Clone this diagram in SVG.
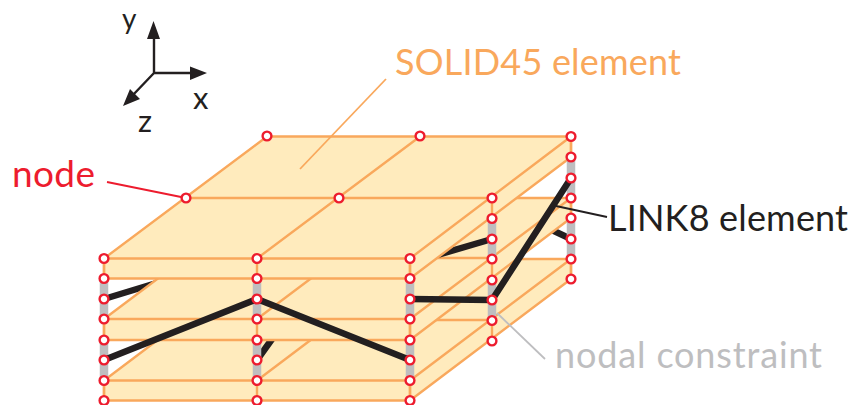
<svg xmlns="http://www.w3.org/2000/svg" width="854" height="405" viewBox="0 0 854 405">
<style>
.f{fill:#FFEBBD;stroke:#F9A85C;stroke-width:2.4;stroke-linejoin:round}
.l{fill:none;stroke:#F9A85C;stroke-width:2.4}
.g{stroke:#BEBEC0;stroke-width:8.500;fill:none}
.k{stroke:#231F20;stroke-width:6.500;fill:none;stroke-linejoin:round}
.t{font-family:Lato,"Liberation Sans",sans-serif}
.n{fill:#fff;stroke:#ED1C2E;stroke-width:2.400}
</style>
<defs><g id="c"><circle r="4.400" class="n"/></g></defs>

<g id="plate-bottom">
<path class="f" d="M104 380.5L265 259H571L410 380.5ZM104 380.5V400.5H410V380.5ZM410 380.5L571 259V279L410 400.5V380.5Z"/>
<path class="l" d="M257 380.5L418 259M186 320H492"/>
</g>
<g id="connectors-lower">
<path class="k" d="M104 299L186 274M257 360L300 300M571 239L490 201"/>
</g>
<g id="plate-middle">
<path class="f" d="M104 319L265 198H571L410 319ZM104 319V340H410V319ZM410 319L571 198V218L410 340V319Z"/>
<path class="l" d="M257 319L418 198M186 258H492"/>
</g>
<g id="connectors-upper">
<path class="k" d="M492 239L410 263"/>
</g>
<g id="plate-top">
<path class="f" d="M104 258.5L267 136.5H571L410 258.5ZM104 258.5V278.5H410V258.5ZM410 258.5L571 136.5V157L410 278.5V258.5Z"/>
<path class="l" d="M257 258.5L420 136.5M186 198H492"/>
</g>
<g id="edges">
<path class="l" d="M104 258.5V401M257 258.5V401M410 258.5V401M492 198V341M571 136.5V279"/>
</g>
<g id="constraints">
<path class="g" d="M104 278.5V319M104 340V380.5M257 278.5V319M257 340V380.5M410 278.5V319M410 340V380.5M492 218.5V259M492 280V320.5M571 157V198M571 218V259"/>
</g>
<g id="connectors">
<path class="k" d="M104 360L257 299L410 360M410 299L492 300L571 178"/>
<path d="M107 182L186 198" fill="none" stroke="#ED1C2E" stroke-width="1.8"/>
<path d="M386 79L300 169" fill="none" stroke="#F9A85C" stroke-width="1.8"/>
<path d="M497 313L545 359" fill="none" stroke="#BEBEC0" stroke-width="1.8"/>
<path d="M556 206L607 217" fill="none" stroke="#231F20" stroke-width="1.8"/>
</g>
<g id="nodes">
<use href="#c" x="267" y="136"/><use href="#c" x="420" y="136"/><use href="#c" x="571" y="136.5"/>
<use href="#c" x="186" y="198"/><use href="#c" x="339" y="198"/>
<use href="#c" x="104" y="258.5"/><use href="#c" x="104" y="278.5"/><use href="#c" x="104" y="299"/><use href="#c" x="104" y="319"/><use href="#c" x="104" y="340"/><use href="#c" x="104" y="360"/><use href="#c" x="104" y="380.5"/><use href="#c" x="104" y="400.5"/>
<use href="#c" x="257" y="258.5"/><use href="#c" x="257" y="278.5"/><use href="#c" x="257" y="299"/><use href="#c" x="257" y="319"/><use href="#c" x="257" y="340"/><use href="#c" x="257" y="360"/><use href="#c" x="257" y="380.5"/><use href="#c" x="257" y="400.5"/>
<use href="#c" x="410" y="258.5"/><use href="#c" x="410" y="278.5"/><use href="#c" x="410" y="299"/><use href="#c" x="410" y="319"/><use href="#c" x="410" y="340"/><use href="#c" x="410" y="360"/><use href="#c" x="410" y="380.5"/><use href="#c" x="410" y="400.5"/>
<use href="#c" x="492" y="198"/><use href="#c" x="492" y="218.5"/><use href="#c" x="492" y="239"/><use href="#c" x="492" y="259"/><use href="#c" x="492" y="280"/><use href="#c" x="492" y="300"/><use href="#c" x="492" y="320.5"/><use href="#c" x="492" y="341"/>
<use href="#c" x="571" y="157"/><use href="#c" x="571" y="178"/><use href="#c" x="571" y="198"/><use href="#c" x="571" y="218"/><use href="#c" x="571" y="239"/><use href="#c" x="571" y="259"/><use href="#c" x="571" y="279"/>
</g>
<g id="axes">
<path d="M154 73V36M154 73H192M154 73L132 96" fill="none" stroke="#231F20" stroke-width="2.4"/>
<path d="M153.500 21L147 39H160ZM207 73L190 66.500V80ZM123 106L130 89L140 99Z" fill="#231F20"/>
<text class="t" x="122" y="29" font-size="28" fill="#231F20">y</text>
<text class="t" x="193" y="109" font-size="31" fill="#231F20">x</text>
<text class="t" x="138" y="132" font-size="31" fill="#231F20">z</text>
</g>
<g id="labels">
<text class="t" x="395" y="75" font-size="36" textLength="286" fill="#F9A85C">SOLID45 element</text>
<text class="t" x="12" y="187" font-size="37" textLength="83" fill="#ED1C2E">node</text>
<text class="t" x="608" y="231" font-size="36" textLength="240" fill="#231F20">LINK8 element</text>
<text class="t" x="555" y="368" font-size="36" textLength="267" fill="#BEBEC0">nodal constraint</text>
</g>
</svg>
